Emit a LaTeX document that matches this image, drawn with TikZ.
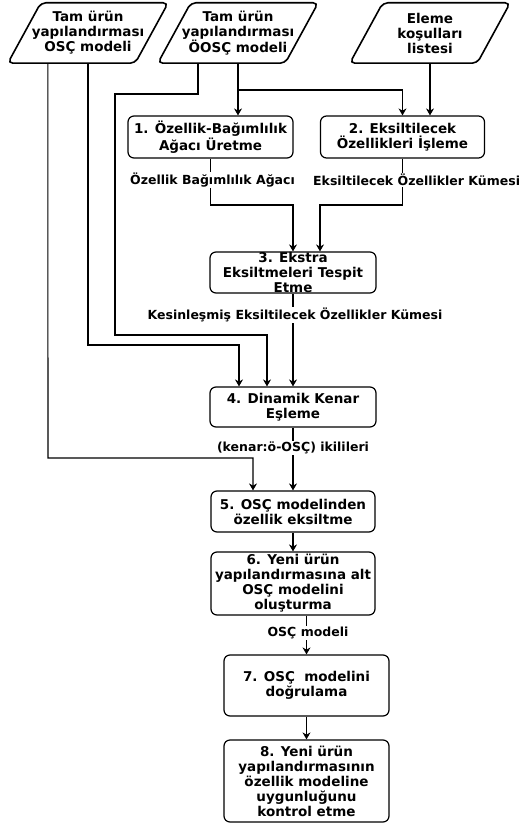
\documentclass[tikz,border=0pt]{standalone}
\usepackage{fontspec}
\setmainfont{DejaVu Sans}
\usetikzlibrary{arrows.meta}
\begin{document}
\begin{tikzpicture}[x=1pt,y=-1pt,
  every node/.style={font=\bfseries\fontsize{13.5}{15}\selectfont},
  pg/.style={minimum width=160pt, minimum height=60pt, align=center, inner sep=0pt},
  box/.style={draw, rounded corners=6pt, line width=1.2pt, align=center, inner sep=1pt},
  lbl/.style={fill=white, inner sep=1pt, font=\bfseries\fontsize{12.5}{15}\selectfont},
  arr/.style={line width=1.1pt, -{Stealth[length=7pt,width=8pt]}},
  pgline/.style={line width=1.6pt, rounded corners=5pt}]
\useasboundingbox (0,0) rectangle (519,826);

% input parallelograms
\node[pg] (p1) at (88,33) {Tam ürün\\yapılandırması\\OSÇ modeli};
\node[pg] (p2) at (238,33) {Tam ürün\\yapılandırması\\ÖOSÇ modeli};
\node[pg] (p3) at (430,33) {Eleme\\koşulları\\listesi};
\foreach \n in {p1,p2,p3}
  \draw[pgline] ([xshift=33pt]\n.north west) -- (\n.north east)
     -- ([xshift=-33pt]\n.south east) -- (\n.south west) -- cycle;

% process boxes
\node[box, minimum width=165pt, minimum height=42pt] (b1) at (210.5,137) {1. Özellik-Bağımlılık\\Ağacı Üretme};
\node[box, minimum width=164pt, minimum height=42pt] (b2) at (402.5,137) {2. Eksiltilecek\\Özellikleri İşleme};
\node[box, minimum width=166pt, minimum height=41pt] (b3) at (293,272.5) {};
\node[align=center, inner sep=0pt] (b3t) at (b3) {3. Ekstra\\Eksiltmeleri Tespit\\Etme};
\node[box, minimum width=166pt, minimum height=40pt] (b4) at (293,407) {4. Dinamik Kenar\\Eşleme};
\node[box, minimum width=164pt, minimum height=41pt] (b5) at (293,511.5) {5. OSÇ modelinden\\özellik eksiltme};
\node[box, minimum width=164pt, minimum height=63pt] (b6) at (293,583.5) {6. Yeni ürün\\yapılandırmasına alt\\OSÇ modelini\\oluşturma};
\node[box, minimum width=165pt, minimum height=61pt] (b7) at (306.5,685.5) {7. OSÇ\ \ modelini\\doğrulama};
\node[box, minimum width=165pt, minimum height=82pt] (b8) at (306.5,781) {8. Yeni ürün\\yapılandırmasının\\özellik modeline\\uygunluğunu\\kontrol etme};

% connectors
\draw[arr] ([xshift=40pt]p1.south west) -- (48,458) -- (253,458) -- ([xshift=-40pt]b5.north);
\draw[arr] (p1.south) -- (88,345) -- (239,345) -- ([xshift=-54pt]b4.north);
\draw[arr] ([xshift=-40pt]p2.south) -- (198,94) -- (115,94) -- (115,335) -- (267,335) -- ([xshift=-26pt]b4.north);
\draw[arr] (p2.south) -- (b1.north -| p2.south);
\draw[arr] (238,90) -- (402.5,90) -- (b2.north);
\draw[arr] (p3.south) -- (b2.north -| p3.south);
\draw[arr] (b1.south) -- (210.5,205) -- (293,205) -- (b3.north);
\draw[arr] (b2.south) -- (402.5,205) -- (320,205) -- ([xshift=27pt]b3.north);
\draw[arr] (b3.south) -- (b4.north);
\draw[arr] (b4.south) -- (b5.north);
\draw[arr] (b5.south) -- (b6.north);
\draw[arr] (b6.south -| b7.north) -- (b7.north);
\draw[arr] (b7.south) -- (b8.north);

% connector labels
\node[lbl] (l1) at (212.5,180) {Özellik Bağımlılık Ağacı};
\node[lbl, anchor=west] (l2) at (312,180) {Eksiltilecek Özellikler Kümesi};
\node[lbl] (l3) at (295,315) {Kesinleşmiş Eksiltilecek Özellikler Kümesi};
\node[lbl] (l4) at (293,448) {(kenar:ö-OSÇ) ikilileri};
\node[lbl] (l5) at (308,633) {OSÇ modeli};
\end{tikzpicture}
\end{document}
